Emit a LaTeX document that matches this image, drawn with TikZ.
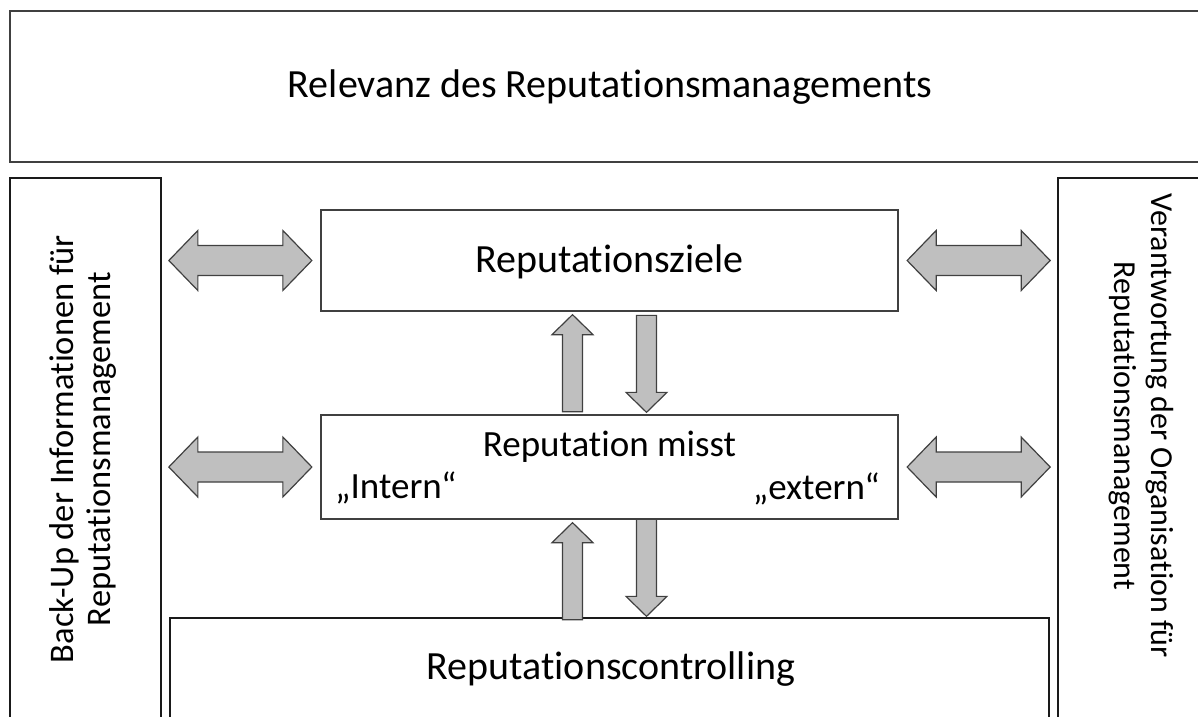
\documentclass[tikz,border=0pt]{standalone}
\usepackage{fontspec}
\setmainfont{Carlito}[Ligatures={NoCommon,NoContextual}]
\usetikzlibrary{calc}
\definecolor{boxline}{HTML}{404040}
\definecolor{framedark}{HTML}{1A1A1A}
\definecolor{arrowfill}{HTML}{BFBFBF}
\definecolor{arrowline}{HTML}{404040}
\begin{document}
\begin{tikzpicture}[x=1pt,y=-1pt,
  frame/.style={draw=boxline, line width=1.3pt, rectangle, inner sep=0pt},
  darkframe/.style={frame, draw=framedark},
  maintext/.style={font=\fontsize{40}{46}\selectfont, inner sep=0pt},
  midtext/.style={font=\fontsize{37}{42}\selectfont, inner sep=0pt},
  sidetext/.style={font=\fontsize{34.5}{37}\selectfont, align=center, inner sep=0pt},
  blockarrow/.style={fill=arrowfill, draw=arrowline, line width=1.2pt, line join=miter},
  pics/twoway/.style={code={
    \path[blockarrow] (-71.5,0) -- (-42.5,-30) -- (-42.5,-15) -- (42.5,-15)
      -- (42.5,-30) -- (71.5,0) -- (42.5,30) -- (42.5,15) -- (-42.5,15)
      -- (-42.5,30) -- cycle;}},
  pics/upward/.style={code={
    \path[blockarrow] (0,0) -- (20.5,20) -- (10,20) -- (10,97) -- (-10,97)
      -- (-10,20) -- (-20.5,20) -- cycle;}},
]
\useasboundingbox (0,0) rectangle (1198,716);
\clip (0,0) rectangle (1198,716);

% frames
\node[frame, minimum width=1200pt, minimum height=151pt] (relevanz) at (610,86.5) {};
\node[darkframe, minimum width=151pt, minimum height=542pt] (backup) at (85.5,449) {};
\node[darkframe, minimum width=152pt, minimum height=542pt] (verantwortung) at (1134,449) {};
\node[frame, minimum width=577pt, minimum height=101pt] (ziele) at (609.5,260.5) {};
\node[frame, minimum width=577pt, minimum height=104pt] (messung) at (609.5,467) {};
\node[darkframe, minimum width=879pt, minimum height=102pt] (controlling) at (609.5,669) {};

% texts
\node[maintext, anchor=base] (relevanzText) at (610,97.3) {Relevanz des Reputationsmanagements};
\node[maintext, anchor=base] (zieleText) at (609.5,272) {Reputationsziele};
\node[midtext, anchor=base] (messungText) at (609.5,456.7) {Reputation misst};
\node[midtext, anchor=base west] (internText) at (335,498) {„Intern“};
\node[midtext, anchor=base east] (externText) at (880,499) {„extern“};
\node[maintext, anchor=base] (controllingText) at (611,679) {Reputationscontrolling};
\node[sidetext, rotate=90] (backupText) at (83,449)
  {Back-Up der Informationen für\\Reputationsmanagement};
\node[sidetext, font=\fontsize{32}{37}\selectfont, rotate=-90] (verantwortungText) at (1141,426)
  {Verantwortung der Organisation für\\Reputationsmanagement};

% horizontal two-way arrows
\pic at ($(ziele.west)+(-80,0)$) {twoway};
\pic at ($(ziele.east)+(80,0)$) {twoway};
\pic at ($(messung.west)+(-80,0)$) {twoway};
\pic at ($(messung.east)+(80,0)$) {twoway};

% vertical arrows between the levels
\pic at ($(ziele.south)+(-37,3)$) {upward};
\pic[yscale=-1] at ($(messung.north)+(37,-2)$) {upward};
\pic at ($(messung.south)+(-37,3)$) {upward};
\pic[yscale=-1] at ($(controlling.north)+(37,-1)$) {upward};
\end{tikzpicture}
\end{document}
